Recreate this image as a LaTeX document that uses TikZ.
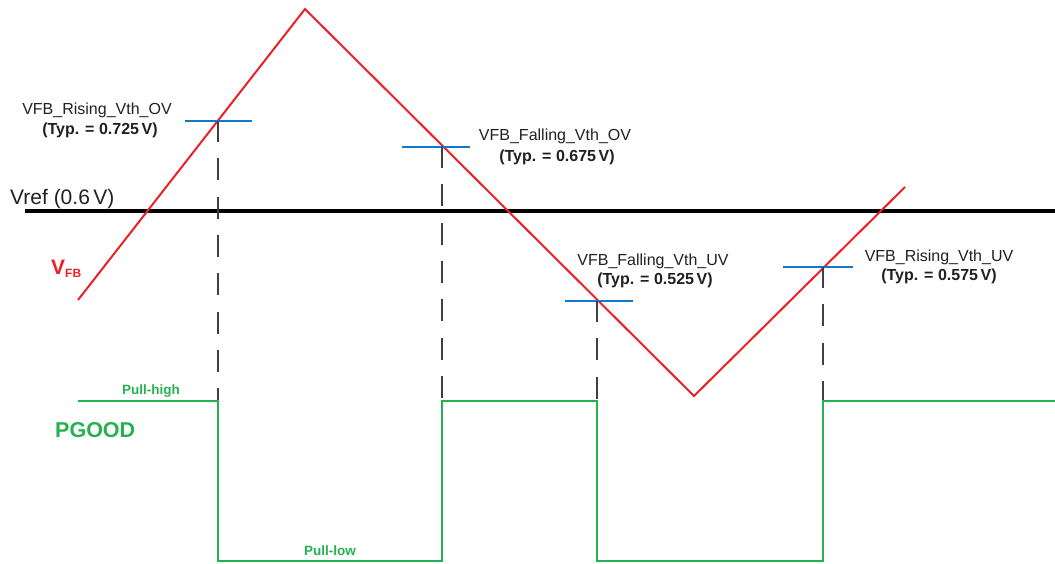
\documentclass[tikz,border=0pt]{standalone}
\usepackage{fontspec}
\setmainfont{Liberation Sans}
\definecolor{vred}{RGB}{236,32,38}
\definecolor{pgreen}{RGB}{36,178,80}
\definecolor{tblue}{RGB}{20,120,200}
\definecolor{txt}{RGB}{35,31,32}
\begin{document}
\begin{tikzpicture}[x=1pt,y=-1pt,
  lbl/.style={inner sep=0pt,text=txt,font=\fontsize{16}{16}\selectfont},
  typ/.style={inner sep=0pt,text=txt,font=\fontsize{16}{16}\selectfont\bfseries},
  tick/.style={tblue,line width=1.2pt},
  guide/.style={black!75,line width=1.3pt,dash pattern=on 22pt off 16.3pt,dash phase=1pt},
  wave/.style={vred,line width=2pt},
  pg/.style={pgreen,line width=2.3pt},
  glbl/.style={inner sep=0pt,text=pgreen,font=\fontsize{13.5}{13.5}\selectfont\bfseries}]
\useasboundingbox (0,0) rectangle (1055,563);
% reference line
\coordinate (r0) at (25,211);
\coordinate (r1) at (1055,211);
\draw[black,line width=4pt] (r0) -- (r1);
\node[anchor=base west,inner sep=0pt,text=txt,font=\fontsize{21}{21}\selectfont] (vref) at (10,204) {Vref (0.6\,V)};
% VFB waveform
\coordinate (a0) at (78,300);
\coordinate (a1) at (305,9);
\coordinate (a2) at (694,396);
\coordinate (a3) at (905,187);
\draw[wave,line join=miter] (a0) -- (a1) -- (a2) -- (a3);
\node[anchor=base west,inner sep=0pt,text=vred,font=\fontsize{21}{21}\selectfont\bfseries] (vfb) at (51,274) {V\raisebox{-3pt}{\fontsize{12}{12}\selectfont FB}};
% threshold ticks
\coordinate (t1) at (218,121); \coordinate (t1l) at (185,121); \coordinate (t1r) at (252,121);
\coordinate (t2) at (442,147); \coordinate (t2l) at (402,147); \coordinate (t2r) at (470,147);
\coordinate (t3) at (597,301); \coordinate (t3l) at (565,301); \coordinate (t3r) at (633,301);
\coordinate (t4) at (823,267); \coordinate (t4l) at (783,267); \coordinate (t4r) at (853,267);
\draw[tick] (t1l) -- (t1r);
\draw[tick] (t2l) -- (t2r);
\draw[tick] (t3l) -- (t3r);
\draw[tick] (t4l) -- (t4r);
% guides
\coordinate (g1) at (218,401);
\coordinate (g2) at (442,401);
\coordinate (g3) at (597,401);
\coordinate (g4) at (823,401);
\draw[guide] (t1) -- (g1);
\draw[guide] (t2) -- (g2);
\draw[guide] (t3) -- (g3);
\draw[guide] (t4) -- (g4);
% labels
\node[lbl,anchor=base] (l1) at (97,114) {VFB\_Rising\_Vth\_OV};
\node[typ,anchor=base] (l1b) at (100,134) {(Typ. = 0.725\,V)};
\node[lbl,anchor=base] (l2) at (555,140) {VFB\_Falling\_Vth\_OV};
\node[typ,anchor=base] (l2b) at (557,161) {(Typ. = 0.675\,V)};
\node[lbl,anchor=base] (l3) at (653,265) {VFB\_Falling\_Vth\_UV};
\node[typ,anchor=base] (l3b) at (655,284) {(Typ. = 0.525\,V)};
\node[lbl,anchor=base] (l4) at (939,261) {VFB\_Rising\_Vth\_UV};
\node[typ,anchor=base] (l4b) at (939,280) {(Typ. = 0.575\,V)};
% PGOOD
\coordinate (p0) at (78,401);
\coordinate (p1) at (218,561);
\coordinate (p2) at (442,561);
\coordinate (p3) at (597,561);
\coordinate (p4) at (823,561);
\coordinate (p5) at (1055,401);
\draw[pg] (p0) -- (g1) -- (p1) -- (p2) -- (g2) -- (g3) -- (p3) -- (p4) -- (g4) -- (p5);
\node[anchor=base west,inner sep=0pt,text=pgreen,font=\fontsize{21.5}{21.5}\selectfont\bfseries] (pgood) at (55,437) {PGOOD};
\node[glbl,anchor=base] (ph) at (151,394) {Pull-high};
\node[glbl,anchor=base] (pl) at (330,555) {Pull-low};
\end{tikzpicture}
\end{document}
